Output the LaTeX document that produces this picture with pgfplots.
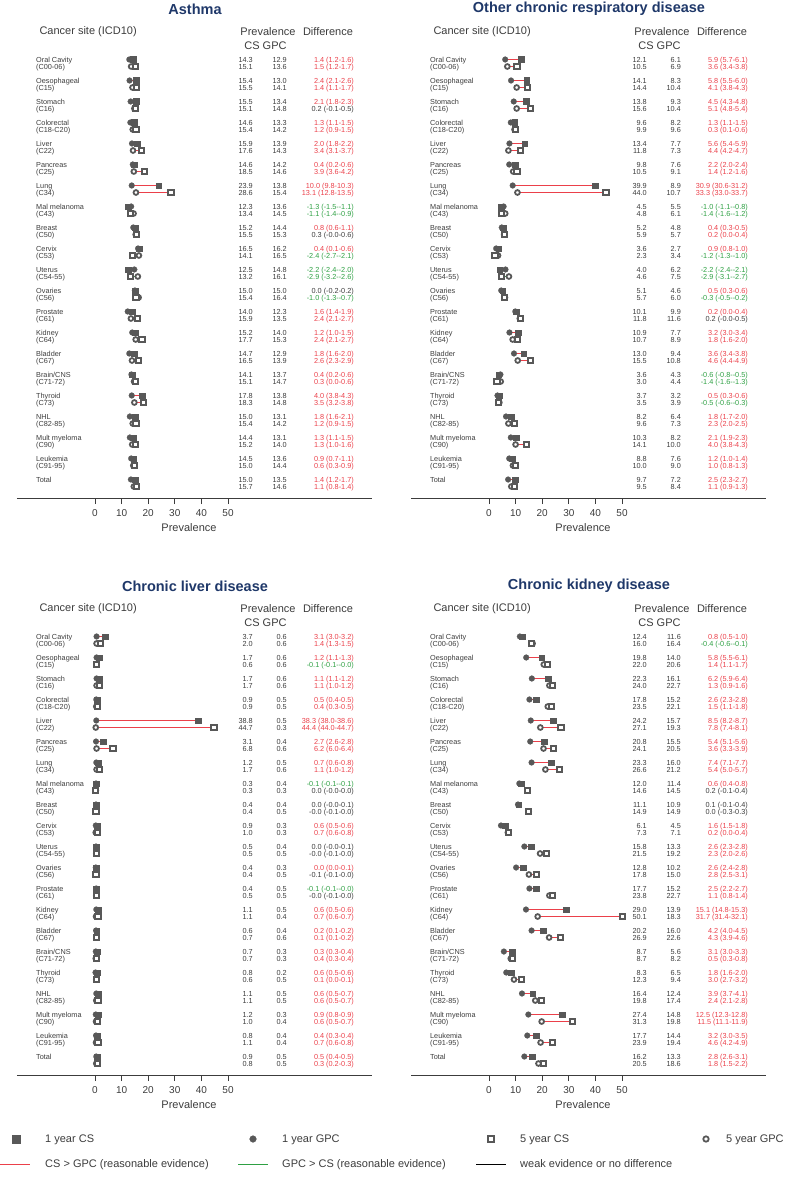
\documentclass[border=0pt]{standalone}
\usepackage{pgfplots}
\usepackage{pgfplotstable}
\pgfplotsset{compat=1.18}
\usepackage{fontspec}
\setmainfont{Liberation Sans}
\definecolor{mk}{RGB}{88,88,88}
\definecolor{cred}{RGB}{235,64,74}
\definecolor{cgreen}{RGB}{46,160,67}
\definecolor{ctxt}{RGB}{60,60,60}
\definecolor{navy}{RGB}{31,56,105}
\newcommand{\fs}[1]{\fontsize{#1}{#1}\selectfont}
\def\rowy{-(59.5+21*\thisrow{i}+7*\thisrow{k})}

\pgfplotstableread{
i name code
0 {Oral Cavity} (C00-06)
1 Oesophageal (C15)
2 Stomach (C16)
3 Colorectal (C18-C20)
4 Liver (C22)
5 Pancreas (C25)
6 Lung (C34)
7 {Mal melanoma} (C43)
8 Breast (C50)
9 Cervix (C53)
10 Uterus (C54-55)
11 Ovaries (C56)
12 Prostate (C61)
13 Kidney (C64)
14 Bladder (C67)
15 Brain/CNS (C71-72)
16 Thyroid (C73)
17 NHL (C82-85)
18 {Mult myeloma} (C90)
19 Leukemia (C91-95)
20 Total x
}\sites

\pgfplotstableread{
i k cs gpc c d
0 0 14.3 12.9 1 {1.4 (1.2-1.6)}
0 1 15.1 13.6 1 {1.5 (1.2-1.7)}
1 0 15.4 13.0 1 {2.4 (2.1-2.6)}
1 1 15.5 14.1 1 {1.4 (1.1-1.7)}
2 0 15.5 13.4 1 {2.1 (1.8-2.3)}
2 1 15.1 14.8 0 {0.2 (-0.1-0.5)}
3 0 14.6 13.3 1 {1.3 (1.1-1.5)}
3 1 15.4 14.2 1 {1.2 (0.9-1.5)}
4 0 15.9 13.9 1 {2.0 (1.8-2.2)}
4 1 17.6 14.3 1 {3.4 (3.1-3.7)}
5 0 14.6 14.2 1 {0.4 (0.2-0.6)}
5 1 18.5 14.6 1 {3.9 (3.6-4.2)}
6 0 23.9 13.8 1 {10.0 (9.8-10.3)}
6 1 28.6 15.4 1 {13.1 (12.8-13.5)}
7 0 12.3 13.6 2 {-1.3 (-1.5-{}-1.1)}
7 1 13.4 14.5 2 {-1.1 (-1.4-{}-0.9)}
8 0 15.2 14.4 1 {0.8 (0.6-1.1)}
8 1 15.5 15.3 0 {0.3 (-0.0-0.6)}
9 0 16.5 16.2 1 {0.4 (0.1-0.6)}
9 1 14.1 16.5 2 {-2.4 (-2.7-{}-2.1)}
10 0 12.5 14.8 2 {-2.2 (-2.4-{}-2.0)}
10 1 13.2 16.1 2 {-2.9 (-3.2-{}-2.6)}
11 0 15.0 15.0 0 {0.0 (-0.2-0.2)}
11 1 15.4 16.4 2 {-1.0 (-1.3-{}-0.7)}
12 0 14.0 12.3 1 {1.6 (1.4-1.9)}
12 1 15.9 13.5 1 {2.4 (2.1-2.7)}
13 0 15.2 14.0 1 {1.2 (1.0-1.5)}
13 1 17.7 15.3 1 {2.4 (2.1-2.7)}
14 0 14.7 12.9 1 {1.8 (1.6-2.0)}
14 1 16.5 13.9 1 {2.6 (2.3-2.9)}
15 0 14.1 13.7 1 {0.4 (0.2-0.6)}
15 1 15.1 14.7 1 {0.3 (0.0-0.6)}
16 0 17.8 13.8 1 {4.0 (3.8-4.3)}
16 1 18.3 14.8 1 {3.5 (3.2-3.8)}
17 0 15.0 13.1 1 {1.8 (1.6-2.1)}
17 1 15.4 14.2 1 {1.2 (0.9-1.5)}
18 0 14.4 13.1 1 {1.3 (1.1-1.5)}
18 1 15.2 14.0 1 {1.3 (1.0-1.6)}
19 0 14.5 13.6 1 {0.9 (0.7-1.1)}
19 1 15.0 14.4 1 {0.6 (0.3-0.9)}
20 0 15.0 13.5 1 {1.4 (1.2-1.7)}
20 1 15.7 14.6 1 {1.1 (0.8-1.4)}
}\asthma

\pgfplotstableread{
i k cs gpc c d
0 0 12.1 6.1 1 {5.9 (5.7-6.1)}
0 1 10.5 6.9 1 {3.6 (3.4-3.8)}
1 0 14.1 8.3 1 {5.8 (5.5-6.0)}
1 1 14.4 10.4 1 {4.1 (3.8-4.3)}
2 0 13.8 9.3 1 {4.5 (4.3-4.8)}
2 1 15.6 10.4 1 {5.1 (4.8-5.4)}
3 0 9.6 8.2 1 {1.3 (1.1-1.5)}
3 1 9.9 9.6 1 {0.3 (0.1-0.6)}
4 0 13.4 7.7 1 {5.6 (5.4-5.9)}
4 1 11.8 7.3 1 {4.4 (4.2-4.7)}
5 0 9.8 7.6 1 {2.2 (2.0-2.4)}
5 1 10.5 9.1 1 {1.4 (1.2-1.6)}
6 0 39.9 8.9 1 {30.9 (30.6-31.2)}
6 1 44.0 10.7 1 {33.3 (33.0-33.7)}
7 0 4.5 5.5 2 {-1.0 (-1.1-{}-0.8)}
7 1 4.8 6.1 2 {-1.4 (-1.6-{}-1.2)}
8 0 5.2 4.8 1 {0.4 (0.3-0.5)}
8 1 5.9 5.7 1 {0.2 (0.0-0.4)}
9 0 3.6 2.7 1 {0.9 (0.8-1.0)}
9 1 2.3 3.4 2 {-1.2 (-1.3-{}-1.0)}
10 0 4.0 6.2 2 {-2.2 (-2.4-{}-2.1)}
10 1 4.6 7.5 2 {-2.9 (-3.1-{}-2.7)}
11 0 5.1 4.6 1 {0.5 (0.3-0.6)}
11 1 5.7 6.0 2 {-0.3 (-0.5-{}-0.2)}
12 0 10.1 9.9 1 {0.2 (0.0-0.4)}
12 1 11.8 11.6 0 {0.2 (-0.0-0.5)}
13 0 10.9 7.7 1 {3.2 (3.0-3.4)}
13 1 10.7 8.9 1 {1.8 (1.6-2.0)}
14 0 13.0 9.4 1 {3.6 (3.4-3.8)}
14 1 15.5 10.8 1 {4.6 (4.4-4.9)}
15 0 3.6 4.3 2 {-0.6 (-0.8-{}-0.5)}
15 1 3.0 4.4 2 {-1.4 (-1.6-{}-1.3)}
16 0 3.7 3.2 1 {0.5 (0.3-0.6)}
16 1 3.5 3.9 2 {-0.5 (-0.6-{}-0.3)}
17 0 8.2 6.4 1 {1.8 (1.7-2.0)}
17 1 9.6 7.3 1 {2.3 (2.0-2.5)}
18 0 10.3 8.2 1 {2.1 (1.9-2.3)}
18 1 14.1 10.0 1 {4.0 (3.8-4.3)}
19 0 8.8 7.6 1 {1.2 (1.0-1.4)}
19 1 10.0 9.0 1 {1.0 (0.8-1.3)}
20 0 9.7 7.2 1 {2.5 (2.3-2.7)}
20 1 9.5 8.4 1 {1.1 (0.9-1.3)}
}\resp

\pgfplotstableread{
i k cs gpc c d
0 0 3.7 0.6 1 {3.1 (3.0-3.2)}
0 1 2.0 0.6 1 {1.4 (1.3-1.5)}
1 0 1.7 0.6 1 {1.2 (1.1-1.3)}
1 1 0.6 0.6 2 {-0.1 (-0.1-{}-0.0)}
2 0 1.7 0.6 1 {1.1 (1.1-1.2)}
2 1 1.7 0.6 1 {1.1 (1.0-1.2)}
3 0 0.9 0.5 1 {0.5 (0.4-0.5)}
3 1 0.9 0.5 1 {0.4 (0.3-0.5)}
4 0 38.8 0.5 1 {38.3 (38.0-38.6)}
4 1 44.7 0.3 1 {44.4 (44.0-44.7)}
5 0 3.1 0.4 1 {2.7 (2.6-2.8)}
5 1 6.8 0.6 1 {6.2 (6.0-6.4)}
6 0 1.2 0.5 1 {0.7 (0.6-0.8)}
6 1 1.7 0.6 1 {1.1 (1.0-1.2)}
7 0 0.3 0.4 2 {-0.1 (-0.1-{}-0.1)}
7 1 0.3 0.3 0 {0.0 (-0.0-0.0)}
8 0 0.4 0.4 0 {0.0 (-0.0-0.1)}
8 1 0.4 0.5 0 {-0.0 (-0.1-0.0)}
9 0 0.9 0.3 1 {0.6 (0.5-0.6)}
9 1 1.0 0.3 1 {0.7 (0.6-0.8)}
10 0 0.5 0.4 0 {0.0 (-0.0-0.1)}
10 1 0.5 0.5 0 {-0.0 (-0.1-0.0)}
11 0 0.4 0.3 1 {0.0 (0.0-0.1)}
11 1 0.4 0.5 0 {-0.1 (-0.1-0.0)}
12 0 0.4 0.5 2 {-0.1 (-0.1-{}-0.0)}
12 1 0.5 0.5 0 {-0.0 (-0.1-0.0)}
13 0 1.1 0.5 1 {0.6 (0.5-0.6)}
13 1 1.1 0.4 1 {0.7 (0.6-0.7)}
14 0 0.6 0.4 1 {0.2 (0.1-0.2)}
14 1 0.7 0.6 1 {0.1 (0.1-0.2)}
15 0 0.7 0.3 1 {0.3 (0.3-0.4)}
15 1 0.7 0.3 1 {0.4 (0.3-0.4)}
16 0 0.8 0.2 1 {0.6 (0.5-0.6)}
16 1 0.6 0.5 1 {0.1 (0.0-0.1)}
17 0 1.1 0.5 1 {0.6 (0.5-0.7)}
17 1 1.1 0.5 1 {0.6 (0.5-0.7)}
18 0 1.2 0.3 1 {0.9 (0.8-0.9)}
18 1 1.0 0.4 1 {0.6 (0.5-0.7)}
19 0 0.8 0.4 1 {0.4 (0.3-0.4)}
19 1 1.1 0.4 1 {0.7 (0.6-0.8)}
20 0 0.9 0.5 1 {0.5 (0.4-0.5)}
20 1 0.8 0.5 1 {0.3 (0.2-0.3)}
}\liver

\pgfplotstableread{
i k cs gpc c d
0 0 12.4 11.6 1 {0.8 (0.5-1.0)}
0 1 16.0 16.4 2 {-0.4 (-0.6-{}-0.1)}
1 0 19.8 14.0 1 {5.8 (5.5-6.1)}
1 1 22.0 20.6 1 {1.4 (1.1-1.7)}
2 0 22.3 16.1 1 {6.2 (5.9-6.4)}
2 1 24.0 22.7 1 {1.3 (0.9-1.6)}
3 0 17.8 15.2 1 {2.6 (2.3-2.8)}
3 1 23.5 22.1 1 {1.5 (1.1-1.8)}
4 0 24.2 15.7 1 {8.5 (8.2-8.7)}
4 1 27.1 19.3 1 {7.8 (7.4-8.1)}
5 0 20.8 15.5 1 {5.4 (5.1-5.6)}
5 1 24.1 20.5 1 {3.6 (3.3-3.9)}
6 0 23.3 16.0 1 {7.4 (7.1-7.7)}
6 1 26.6 21.2 1 {5.4 (5.0-5.7)}
7 0 12.0 11.4 1 {0.6 (0.4-0.8)}
7 1 14.6 14.5 0 {0.2 (-0.1-0.4)}
8 0 11.1 10.9 0 {0.1 (-0.1-0.4)}
8 1 14.9 14.9 0 {0.0 (-0.3-0.3)}
9 0 6.1 4.5 1 {1.6 (1.5-1.8)}
9 1 7.3 7.1 1 {0.2 (0.0-0.4)}
10 0 15.8 13.3 1 {2.6 (2.3-2.8)}
10 1 21.5 19.2 1 {2.3 (2.0-2.6)}
11 0 12.8 10.2 1 {2.6 (2.4-2.8)}
11 1 17.8 15.0 1 {2.8 (2.5-3.1)}
12 0 17.7 15.2 1 {2.5 (2.2-2.7)}
12 1 23.8 22.7 1 {1.1 (0.8-1.4)}
13 0 29.0 13.9 1 {15.1 (14.8-15.3)}
13 1 50.1 18.3 1 {31.7 (31.4-32.1)}
14 0 20.2 16.0 1 {4.2 (4.0-4.5)}
14 1 26.9 22.6 1 {4.3 (3.9-4.6)}
15 0 8.7 5.6 1 {3.1 (3.0-3.3)}
15 1 8.7 8.2 1 {0.5 (0.3-0.8)}
16 0 8.3 6.5 1 {1.8 (1.6-2.0)}
16 1 12.3 9.4 1 {3.0 (2.7-3.2)}
17 0 16.4 12.4 1 {3.9 (3.7-4.1)}
17 1 19.8 17.4 1 {2.4 (2.1-2.8)}
18 0 27.4 14.8 1 {12.5 (12.3-12.8)}
18 1 31.3 19.8 1 {11.5 (11.1-11.9)}
19 0 17.7 14.4 1 {3.2 (3.0-3.5)}
19 1 23.9 19.4 1 {4.6 (4.2-4.9)}
20 0 16.2 13.3 1 {2.8 (2.6-3.1)}
20 1 20.5 18.6 1 {1.8 (1.5-2.2)}
}\kidney

\pgfplotsset{
  panel/.style={scale only axis, width=355pt, height=498pt,
    xmin=-29.3, xmax=104.1, ymin=-498, ymax=0,
    axis x line=bottom, axis y line=none,
    axis line style={-, draw=ctxt, line width=0.8pt},
    xtick={0,10,20,30,40,50}, ytick=\empty,
    tick align=outside, major tick length=6pt,
    tick style={draw=ctxt, line width=0.8pt},
    xticklabel style={font=\fs{10}, text=ctxt, yshift=-2pt},
    /pgf/number format/assume math mode=true,
    clip=false, anchor=north west},
  m1gpc/.style={only marks, mark=*, mark size=2.9pt, mark options={fill=mk, draw=mk, line width=0.2pt}},
  m1cs/.style={only marks, mark=square*, mark size=2.9pt, mark options={fill=mk, draw=mk, line width=0.2pt}},
  m5gpc/.style={only marks, mark=*, mark size=2.4pt, mark options={fill=white, draw=mk, line width=1.8pt}},
  m5cs/.style={only marks, mark=square*, mark size=2.6pt, mark options={fill=white, draw=mk, line width=2pt}},
  yr/.style={restrict expr to domain={\thisrow{k}}{#1:#1}},
  cc/.style={restrict expr to domain={\thisrow{c}}{#1:#1}},
  seg/.style={draw=#1, line width=0.9pt, quiver={u=\thisrow{cs}-\thisrow{gpc}, v=0}},
  numlab/.style={draw=none, nodes near coords, point meta=explicit symbolic,
    every node near coord/.append style={anchor=base east, yshift=-2.6pt, inner sep=0pt, font=\fs{7.3}, text=#1}},
  sitelab/.style={draw=none, nodes near coords, point meta=explicit symbolic,
    every node near coord/.append style={anchor=base west, yshift=-2.6pt, inner sep=0pt, font=\fs{7.3}, text=ctxt}},
}

\newcommand{\panel}[4]{%
\begin{axis}[panel, at={(#2+17pt,-#3)}]
\addplot[m1gpc, yr=0] table[x=gpc, y expr=\rowy]{#1};
\addplot[m1cs, yr=0] table[x=cs, y expr=\rowy]{#1};
\addplot[m5gpc, yr=1] table[x=gpc, y expr=\rowy]{#1};
\addplot[m5cs, yr=1] table[x=cs, y expr=\rowy]{#1};
\addplot[seg=cred, cc=1] table[x=gpc, y expr=\rowy]{#1};
\addplot[seg=cgreen, cc=2] table[x=gpc, y expr=\rowy]{#1};
\addplot[seg=black, cc=0] table[x=gpc, y expr=\rowy]{#1};
\addplot[numlab=ctxt] table[x expr=59.38, y expr=\rowy, meta=cs]{#1};
\addplot[numlab=ctxt] table[x expr=72.16, y expr=\rowy, meta=gpc]{#1};
\addplot[numlab=cred, cc=1] table[x expr=97.34, y expr=\rowy, meta=d]{#1};
\addplot[numlab=cgreen, cc=2] table[x expr=97.34, y expr=\rowy, meta=d]{#1};
\addplot[numlab=ctxt, cc=0] table[x expr=97.34, y expr=\rowy, meta=d]{#1};
\addplot[sitelab] table[x expr=-22.17, y expr=-(59.5+21*\thisrow{i}), meta=name]{\sites};
\addplot[sitelab, restrict expr to domain={\thisrow{i}}{0:19}] table[x expr=-22.17, y expr=-(66.5+21*\thisrow{i}), meta=code]{\sites};
\node[font=\bfseries\fs{14.5}, text=navy] at (axis cs:37.58,-9) {#4};
\node[anchor=west, font=\fs{11}, text=ctxt] at (axis cs:-22.17,-32) {Cancer site (ICD10)};
\node[font=\fs{11}, text=ctxt] at (axis cs:65.02,-32) {Prevalence};
\node[font=\fs{11}, text=ctxt] at (axis cs:64.08,-46) {CS GPC};
\node[font=\fs{11}, text=ctxt] at (axis cs:87.57,-32) {Difference};
\node[font=\fs{11}, text=ctxt] at (axis cs:35.33,-528) {Prevalence};
\end{axis}}

\begin{document}
\begin{tikzpicture}
\path[use as bounding box] (0,0) rectangle (785pt,-1177pt);
\panel{\asthma}{0pt}{0pt}{Asthma}
\panel{\resp}{394pt}{0pt}{Other chronic respiratory disease}
\panel{\liver}{0pt}{577pt}{Chronic liver disease}
\panel{\kidney}{394pt}{577pt}{Chronic kidney disease}
\begin{axis}[scale only axis, width=785pt, height=60pt, xmin=0, xmax=785,
  ymin=-1177, ymax=-1117, hide axis, clip=false, at={(0pt,-1117pt)}, anchor=north west]
\addplot[m1cs, mark size=3.6pt] coordinates {(16,-1139)};
\addplot[m1gpc, mark size=3.4pt] coordinates {(253,-1139)};
\addplot[m5cs, mark size=3pt] coordinates {(491,-1139)};
\addplot[m5gpc, mark size=2.7pt] coordinates {(706,-1139)};
\addplot[cred, line width=1pt] coordinates {(0,-1164) (30,-1164)};
\addplot[cgreen, line width=1pt] coordinates {(238,-1164) (268,-1164)};
\addplot[black, line width=1pt] coordinates {(476,-1164) (506,-1164)};
\begin{scope}[every node/.style={anchor=base west, yshift=-3.9pt, font=\fs{11}, text=ctxt, inner sep=0pt}]
\node at (axis cs:45,-1139) {1 year CS};
\node at (axis cs:282,-1139) {1 year GPC};
\node at (axis cs:520,-1139) {5 year CS};
\node at (axis cs:726,-1139) {5 year GPC};
\node at (axis cs:45,-1164) {CS > GPC (reasonable evidence)};
\node at (axis cs:282,-1164) {GPC > CS (reasonable evidence)};
\node at (axis cs:520,-1164) {weak evidence or no difference};
\end{scope}
\end{axis}
\end{tikzpicture}
\end{document}
